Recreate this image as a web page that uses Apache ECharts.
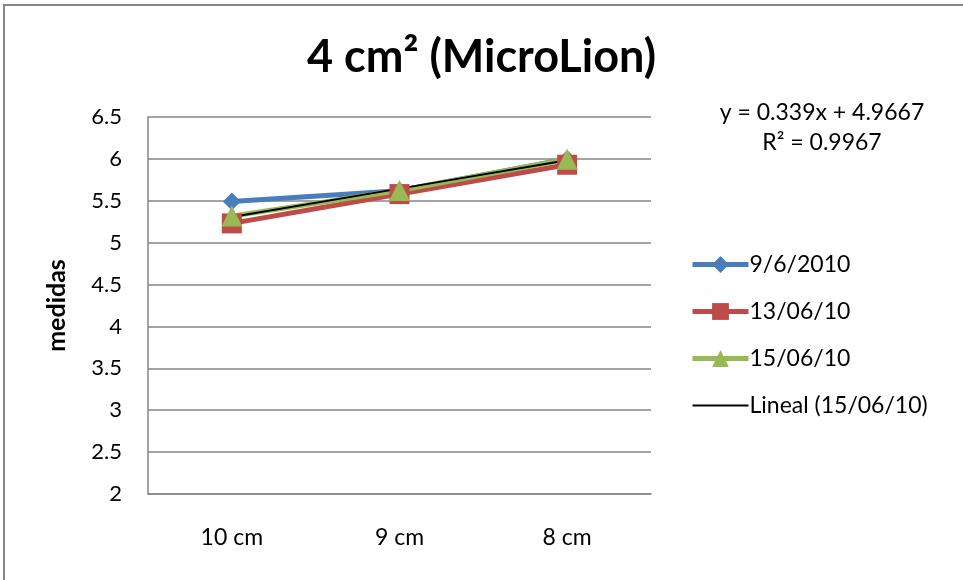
<!DOCTYPE html>
<html>
<head>
<meta charset="utf-8">
<script src="https://cdn.jsdelivr.net/npm/echarts@6/dist/echarts.min.js"></script>
<style>
html,body{margin:0;padding:0;background:#fff;}
#chart{width:963px;height:580px;}
</style>
</head>
<body>
<div id="chart"></div>
<script>
const categories = ['10 cm', '9 cm', '8 cm'];
const seriesNames = ['9/6/2010', '13/06/10', '15/06/10', 'Lineal (15/06/10)'];
const values9 = [5.49, 5.62, 6.0];
const values13 = [5.23, 5.58, 5.93];
const values15 = [5.317, 5.622, 5.995];
const trendValues = [5.306, 5.645, 5.984];
const yTicks = [2, 2.5, 3, 3.5, 4, 4.5, 5, 5.5, 6, 6.5];
const titleText = '4 cm\u00b2 (MicroLion)';
const equationLines = ['y = 0.339x + 4.9667', 'R\u00b2 = 0.9967'];

const FONT = 'Lato, "Liberation Sans", sans-serif';
const chart = echarts.init(document.getElementById('chart'), null, {renderer: 'canvas'});

chart.setOption({
  backgroundColor: '#ffffff',
  animation: false,
  textStyle: {fontFamily: FONT, color: '#000'},
  title: {
    text: titleText,
    left: 'center',
    top: 30,
    textStyle: {fontFamily: FONT, fontSize: 45, fontWeight: 'bold', color: '#000'}
  },
  graphic: [
    {type: 'rect', shape: {x: 4, y: 5, width: 990, height: 620}, style: {fill: 'none', stroke: '#868686', lineWidth: 2}, silent: true},
    {type: 'text', x: 822, y: 113, style: {text: equationLines[0], font: '23px ' + FONT, fill: '#000', align: 'center', verticalAlign: 'middle'}},
    {type: 'text', x: 822, y: 143, style: {text: equationLines[1], font: '23px ' + FONT, fill: '#000', align: 'center', verticalAlign: 'middle'}}
  ],
  legend: {
    orient: 'vertical',
    left: 685,
    top: 248,
    itemWidth: 56,
    itemHeight: 21,
    itemGap: 24,
    data: [
      {name: seriesNames[0], lineStyle: {width: 5}},
      {name: seriesNames[1], lineStyle: {width: 5}},
      {name: seriesNames[2], lineStyle: {width: 5}},
      {name: seriesNames[3], lineStyle: {width: 2}, itemStyle: {opacity: 0}}
    ],
    textStyle: {fontFamily: FONT, fontSize: 23, color: '#000', padding: [0, 0, 0, -4]}
  },
  grid: {left: 148, right: 312, top: 117, bottom: 86},
  xAxis: {
    type: 'category',
    data: categories,
    boundaryGap: true,
    axisLine: {show: true, lineStyle: {color: '#868686', width: 1.5}},
    axisTick: {show: false},
    axisLabel: {fontFamily: FONT, fontSize: 23, color: '#000', margin: 32}
  },
  yAxis: {
    type: 'value',
    min: yTicks[0],
    max: yTicks[yTicks.length - 1],
    interval: 0.5,
    name: 'medidas',
    nameLocation: 'middle',
    nameRotate: 90,
    nameGap: 79,
    nameTextStyle: {fontFamily: FONT, fontSize: 25, fontWeight: 'bold', color: '#000'},
    axisLine: {show: true, lineStyle: {color: '#868686', width: 1.5}},
    axisTick: {show: false},
    axisLabel: {fontFamily: FONT, fontSize: 22, color: '#000', margin: 26},
    splitLine: {show: true, lineStyle: {color: '#868686', width: 1.5}}
  },
  series: [
    {
      name: seriesNames[0], type: 'line', data: values9,
      symbol: 'diamond', symbolSize: 18,
      lineStyle: {color: '#4A7EBB', width: 5},
      itemStyle: {color: '#4A7EBB'}
    },
    {
      name: seriesNames[1], type: 'line', data: values13,
      symbol: 'rect', symbolSize: 20,
      lineStyle: {color: '#BE4B48', width: 5},
      itemStyle: {color: '#BE4B48'}
    },
    {
      name: seriesNames[2], type: 'line', data: values15,
      symbol: 'triangle', symbolSize: 21,
      lineStyle: {color: '#98B954', width: 5},
      itemStyle: {color: '#98B954'}
    },
    {
      name: seriesNames[3], type: 'line', data: trendValues,
      symbol: 'none',
      lineStyle: {color: '#000', width: 2},
      itemStyle: {color: '#000'}
    }
  ]
});
</script>
</body>
</html>
